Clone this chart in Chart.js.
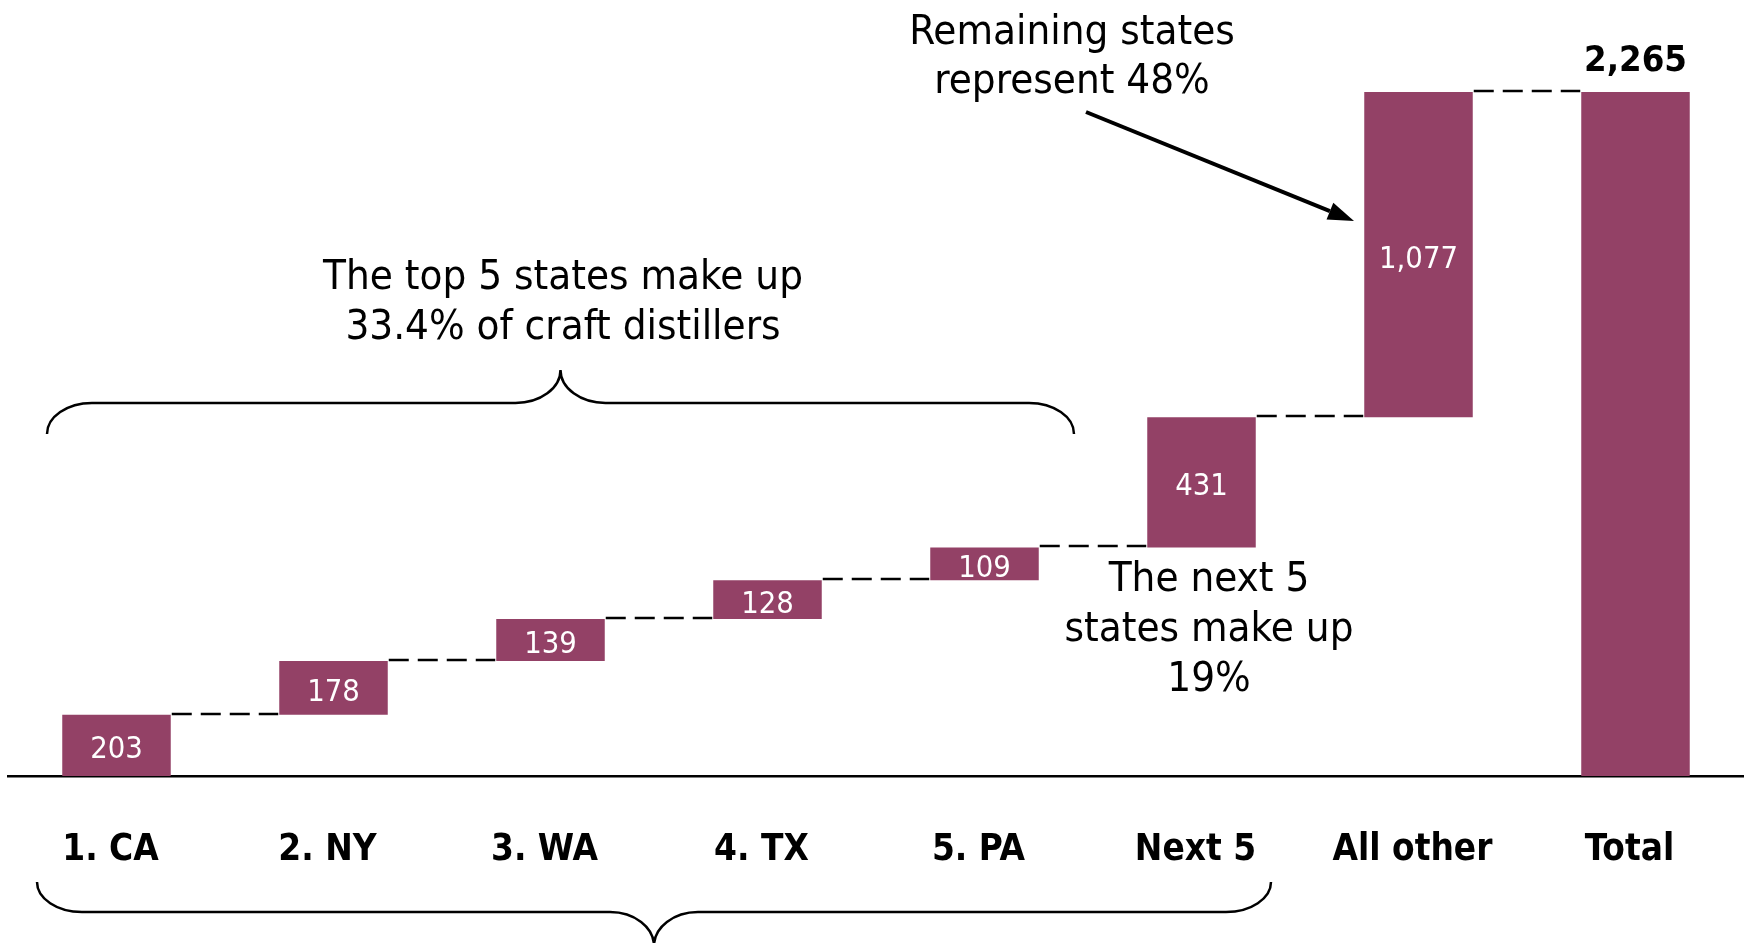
<!DOCTYPE html>
<html><head><meta charset="utf-8">
<script src="https://cdn.jsdelivr.net/npm/chart.js@4/dist/chart.umd.min.js"></script>
<style>html,body{margin:0;padding:0;background:#fff;overflow:hidden}</style>
</head><body>
<canvas id="c" width="1744" height="943"></canvas>
<script>
// ---- data ----
const categories = ['1. CA', '2. NY', '3. WA', '4. TX', '5. PA', 'Next 5', 'All other', 'Total'];
const increments = [203, 178, 139, 128, 109, 431, 1077];
const totalValue = 2265;
const valueLabels = ['203', '178', '139', '128', '109', '431', '1,077', '2,265'];
const topNote = ['The top 5 states make up', '33.4% of craft distillers'];
const nextNote = ['The next 5', 'states make up', '19%'];
const restNote = ['Remaining states', 'represent 48%'];

// ---- floating ranges built from the arrays ----
const ranges = [];
let run = 0;
increments.forEach(v => { ranges.push([run, run + v]); run += v; });
ranges.push([0, totalValue]);

const BAR = '#934166';
const FAM = '"DejaVu Sans Condensed", "DejaVu Sans", sans-serif';

const mctx = document.createElement('canvas').getContext('2d');
function fit(text, weight, target) {
  mctx.font = `${weight} 100px ${FAM}`;
  return 100 * target / mctx.measureText(text).width;
}
const catSize = fit('All other', 'bold', 160);
const noteSize = fit(topNote[0], 'normal', 480);
const valSize = fit('1,077', 'normal', 79);
const totSize = fit('2,265', 'bold', 103);

const tickPad = 53;
const AXIS_Y = 776;

function brace(ctx, x1, x2, y, s, hE, vE, hM, vM) {
  const k = 0.5523;
  const yEnd = y - s * vE, yTip = y + s * vM, xm = (x1 + x2) / 2;
  ctx.beginPath();
  ctx.moveTo(x1, yEnd);
  ctx.bezierCurveTo(x1, yEnd + (y - yEnd) * k, x1 + hE - k * hE, y, x1 + hE, y);
  ctx.lineTo(xm - hM, y);
  ctx.bezierCurveTo(xm - hM + k * hM, y, xm, yTip + (y - yTip) * k, xm, yTip);
  ctx.bezierCurveTo(xm, yTip + (y - yTip) * k, xm + hM - k * hM, y, xm + hM, y);
  ctx.lineTo(x2 - hE, y);
  ctx.bezierCurveTo(x2 - hE + k * hE, y, x2, yEnd + (y - yEnd) * k, x2, yEnd);
  ctx.stroke();
}

const overlay = {
  id: 'overlay',
  afterDatasetsDraw(chart) {
    const ctx = chart.ctx;
    const meta = chart.getDatasetMeta(0);
    const ys = chart.scales.y;
    ctx.save();
    // connectors
    ctx.strokeStyle = '#000';
    ctx.lineWidth = 2.5;
    ctx.setLineDash([20, 9]);
    for (let i = 0; i < meta.data.length - 1; i++) {
      const a = meta.data[i], b = meta.data[i + 1];
      const yy = Math.round(ys.getPixelForValue(ranges[i][1])) - 1;
      ctx.beginPath();
      ctx.moveTo(a.x + a.width / 2 + 1, yy);
      ctx.lineTo(b.x - b.width / 2 - 1, yy);
      ctx.stroke();
    }
    ctx.setLineDash([]);
    // value labels
    ctx.textAlign = 'center';
    ctx.textBaseline = 'middle';
    meta.data.forEach((bar, i) => {
      if (i === meta.data.length - 1) {
        ctx.fillStyle = '#000';
        ctx.font = `bold ${totSize}px ${FAM}`;
        ctx.textBaseline = 'alphabetic';
        ctx.fillText(valueLabels[i], bar.x, bar.y - 21);
        ctx.textBaseline = 'middle';
      } else {
        ctx.fillStyle = '#fff';
        ctx.font = `${valSize}px ${FAM}`;
        ctx.fillText(valueLabels[i], bar.x, (bar.y + bar.base) / 2 + 5);
      }
    });
    // notes
    ctx.fillStyle = '#000';
    ctx.font = `${noteSize}px ${FAM}`;
    ctx.textBaseline = 'alphabetic';
    ctx.fillText(topNote[0], 563, 289);
    ctx.fillText(topNote[1], 563, 339);
    nextNote.forEach((t, i) => ctx.fillText(t, 1209, 591 + i * 50));
    restNote.forEach((t, i) => ctx.fillText(t, 1072, 44 + i * 49));
    // braces
    ctx.lineWidth = 2.5;
    brace(ctx, 47, 1074, 403, -1, 45, 31, 45, 33);
    brace(ctx, 37, 1271, 912, 1, 45, 30, 44, 34);
    // arrow
    const x0 = 1086, y0 = 112, x1 = 1354, y1 = 221;
    const ang = Math.atan2(y1 - y0, x1 - x0);
    const hl = 26, hw = 9;
    ctx.lineWidth = 4;
    ctx.beginPath();
    ctx.moveTo(x0, y0);
    ctx.lineTo(x1 - hl * Math.cos(ang), y1 - hl * Math.sin(ang));
    ctx.stroke();
    ctx.beginPath();
    ctx.moveTo(x1, y1);
    ctx.lineTo(x1 - hl * Math.cos(ang) + hw * Math.sin(ang), y1 - hl * Math.sin(ang) - hw * Math.cos(ang));
    ctx.lineTo(x1 - hl * Math.cos(ang) - hw * Math.sin(ang), y1 - hl * Math.sin(ang) + hw * Math.cos(ang));
    ctx.closePath();
    ctx.fill();
    ctx.restore();
  }
};

const chart = new Chart(document.getElementById('c'), {
  type: 'bar',
  data: {
    labels: categories,
    datasets: [{
      data: ranges,
      backgroundColor: BAR,
      borderWidth: 0,
      categoryPercentage: 1,
      barPercentage: 0.5
    }]
  },
  options: {
    responsive: false,
    animation: false,
    devicePixelRatio: 1,
    layout: { padding: { top: 21, left: 8, right: 0, bottom: 20 } },
    plugins: { legend: { display: false }, tooltip: { enabled: false } },
    scales: {
      x: {
        grid: { display: false, drawTicks: false },
        border: { display: true, color: '#000', width: 2.5 },
        ticks: { color: '#000', padding: tickPad, labelOffset: -6, font: { family: FAM, size: catSize, weight: 'bold' } }
      },
      y: { display: false, min: 0, max: 2500 }
    }
  },
  plugins: [overlay]
});
// align the plot bottom with the reference baseline
const delta = AXIS_Y - chart.chartArea.bottom;
chart.options.layout.padding.bottom -= delta;
chart.update();
</script>
</body></html>
